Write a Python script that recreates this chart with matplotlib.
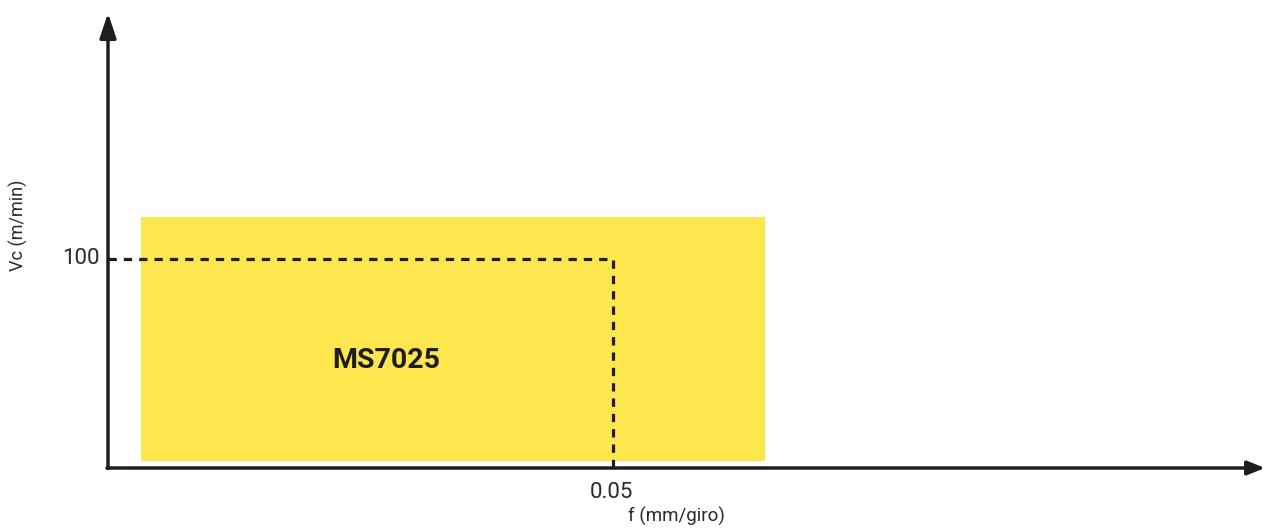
import matplotlib
matplotlib.use("Agg")
import matplotlib.pyplot as plt
from matplotlib.patches import Rectangle

# Data
label = "MS7025"
f_range = [0.0033, 0.0650]      # feed range (mm/giro)
vc_range = [3.3, 120.0]         # cutting speed range (m/min)
f_ref = 0.05
vc_ref = 100
x_tick_labels = ["0.05"]
y_tick_labels = ["100"]
x_label = "f (mm/giro)"
y_label = "Vc (m/min)"

W, H, DPI = 1266, 528, 100
fig = plt.figure(figsize=(W / DPI, H / DPI), dpi=DPI)
ax = fig.add_axes([0, 0, 1, 1])
ax.axis("off")

# scale: 0 at px 108 (x), 0 at px 468 from top (y)
xs = 0.05 / 505.0
ys = 100 / 209.0
ax.set_xlim(-108 * xs, (W - 108) * xs)
ax.set_ylim(-(H - 468) * ys, 468 * ys)

dark = "#1e1e1e"
yellow = "#FEE64E"

ax.add_patch(Rectangle((f_range[0], vc_range[0]), f_range[1] - f_range[0],
                       vc_range[1] - vc_range[0], facecolor=yellow, edgecolor="none", zorder=1))

ax.text(386 * xs - 108 * xs, (468 - 360) * ys, label,
        ha="center", va="center", fontsize=20.5, fontweight="bold", family="Roboto",
        color=dark, zorder=3)

# dashed reference lines
ax.plot([0, f_ref, f_ref], [vc_ref, vc_ref, 0], color=dark, lw=2.3,
        linestyle=(0, (2.6, 2.2)), zorder=2)

# axes with arrows
ax.annotate("", xy=(0, 455 * ys), xytext=(0, -0.5 * ys),
            arrowprops=dict(arrowstyle="-|>,head_length=1.5,head_width=0.5", color=dark, lw=2.5,
                            shrinkA=0, shrinkB=0), zorder=4)
ax.annotate("", xy=(1265 * xs - 108 * xs, 0), xytext=(-1 * xs, 0),
            arrowprops=dict(arrowstyle="-|>,head_length=1.05,head_width=0.42", color=dark, lw=2.5,
                            shrinkA=0, shrinkB=0), zorder=4)

# tick labels
ax.text(-8 * xs, vc_ref, y_tick_labels[0], ha="right", va="center", fontsize=16,
        family="Roboto", color="#2a2a2a")
ax.text(f_ref - 2 * xs, -24 * ys, x_tick_labels[0], ha="center", va="center", fontsize=16,
        family="Roboto", color="#2a2a2a")
ax.text(f_ref + 63 * xs, -48 * ys, x_label, ha="center", va="center", fontsize=13.5,
        family="Roboto", color="#2a2a2a")
ax.text(-90 * xs, 243 * ys, y_label, ha="center", va="center", fontsize=13, rotation=90,
        family="Roboto", color="#2a2a2a")

fig.savefig("out.png", dpi=DPI)
